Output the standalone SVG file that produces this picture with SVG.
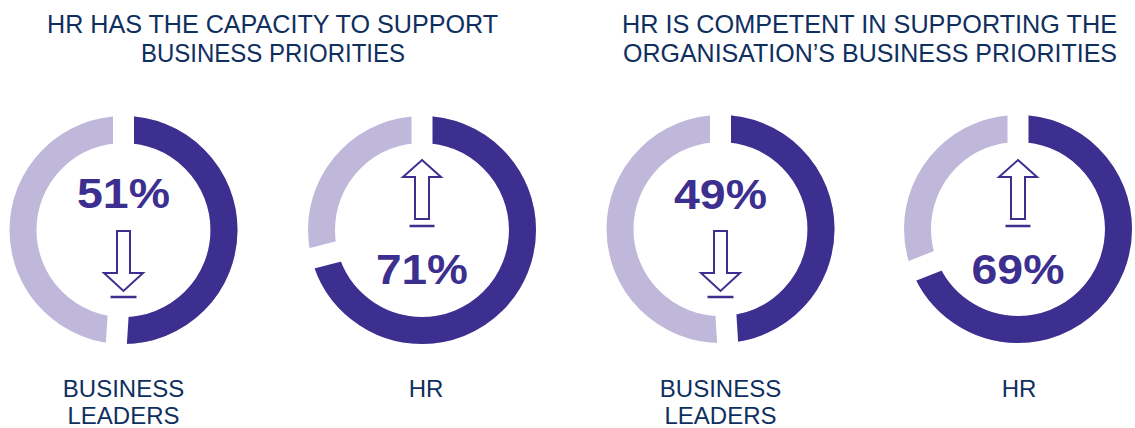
<svg xmlns="http://www.w3.org/2000/svg" xmlns:xlink="http://www.w3.org/1999/xlink" width="1135" height="428" viewBox="0 0 1135 428">
<style>
.title{font-family:"Liberation Sans",Arial,sans-serif;font-size:26px;fill:#0f2f5f;text-anchor:middle}
.label{font-family:"Liberation Sans",Arial,sans-serif;font-size:24px;fill:#0f2f5f;text-anchor:middle}
.pct{font-family:"Liberation Sans",Arial,sans-serif;font-size:43px;font-weight:bold;fill:#3d2f8f;text-anchor:middle}
.light{fill:none;stroke:#bfb8da;stroke-width:27}
.dark{fill:none;stroke:#3d2f8f;stroke-width:27}
.gap{stroke:#ffffff;stroke-width:21}
.arrow{fill:#ffffff;stroke:#3d2f8f;stroke-width:2;stroke-linejoin:miter}
.bar{stroke:#3d2f8f;stroke-width:2.5}
</style>
<defs>
<g id="down">
<polygon class="arrow" points="-6.5,231 6.5,231 6.5,273 19.5,273 0,291 -19.5,273 -6.5,273"/>
<line class="bar" x1="-13" y1="297" x2="13" y2="297"/>
</g>
<g id="up">
<polygon class="arrow" points="0,160 19,177 7,177 7,219 -7,219 -7,177 -19,177"/>
<line class="bar" x1="-12.5" y1="226" x2="12.5" y2="226"/>
</g>
</defs>

<g id="title-capacity">
<text class="title" x="272.5" y="33" textLength="451" lengthAdjust="spacingAndGlyphs">HR HAS THE CAPACITY TO SUPPORT</text>
<text class="title" x="273" y="62" textLength="264" lengthAdjust="spacingAndGlyphs">BUSINESS PRIORITIES</text>
</g>
<g id="title-competent">
<text class="title" x="869.5" y="33" textLength="495" lengthAdjust="spacingAndGlyphs">HR IS COMPETENT IN SUPPORTING THE</text>
<text class="title" x="870" y="62" textLength="494" lengthAdjust="spacingAndGlyphs">ORGANISATION’S BUSINESS PRIORITIES</text>
</g>

<g id="donut-capacity-leaders">
<g transform="translate(123.5,230)">
<circle class="light" r="100.5"/>
<circle class="dark" r="100.5" transform="rotate(-90)" stroke-dasharray="322.04 631.46"/>
<line class="gap" x1="0" y1="-84" x2="0" y2="-118"/>
<line class="gap" x1="0" y1="-84" x2="0" y2="-118" transform="rotate(183.6)"/>
</g>
<text class="pct" x="123.5" y="208" textLength="93" lengthAdjust="spacingAndGlyphs">51%</text>
<use xlink:href="#down" transform="translate(123.5,0)"/>
<text class="label" x="123.5" y="397">BUSINESS</text>
<text class="label" x="123.5" y="424">LEADERS</text>
</g>

<g id="donut-capacity-hr">
<g transform="translate(422,230)">
<circle class="light" r="100.5"/>
<circle class="dark" r="100.5" transform="rotate(-90)" stroke-dasharray="448.34 631.46"/>
<line class="gap" x1="0" y1="-84" x2="0" y2="-118"/>
<line class="gap" x1="0" y1="-84" x2="0" y2="-118" transform="rotate(255.6)"/>
</g>
<use xlink:href="#up" transform="translate(422,0)"/>
<text class="pct" x="422" y="284" textLength="92" lengthAdjust="spacingAndGlyphs">71%</text>
<text class="label" x="426" y="397">HR</text>
</g>

<g id="donut-competent-leaders">
<g transform="translate(720.5,229)">
<circle class="light" r="100.5"/>
<circle class="dark" r="100.5" transform="rotate(-90)" stroke-dasharray="309.42 631.46"/>
<line class="gap" x1="0" y1="-84" x2="0" y2="-118"/>
<line class="gap" x1="0" y1="-84" x2="0" y2="-118" transform="rotate(176.4)"/>
</g>
<text class="pct" x="720.5" y="209" textLength="93" lengthAdjust="spacingAndGlyphs">49%</text>
<use xlink:href="#down" transform="translate(720.5,0)"/>
<text class="label" x="720.5" y="397">BUSINESS</text>
<text class="label" x="720.5" y="424">LEADERS</text>
</g>

<g id="donut-competent-hr">
<g transform="translate(1018,229)">
<circle class="light" r="100.5"/>
<circle class="dark" r="100.5" transform="rotate(-90)" stroke-dasharray="435.71 631.46"/>
<line class="gap" x1="0" y1="-84" x2="0" y2="-118"/>
<line class="gap" x1="0" y1="-84" x2="0" y2="-118" transform="rotate(248.4)"/>
</g>
<use xlink:href="#up" transform="translate(1018,0)"/>
<text class="pct" x="1018" y="284" textLength="93" lengthAdjust="spacingAndGlyphs">69%</text>
<text class="label" x="1019" y="397">HR</text>
</g>
</svg>
